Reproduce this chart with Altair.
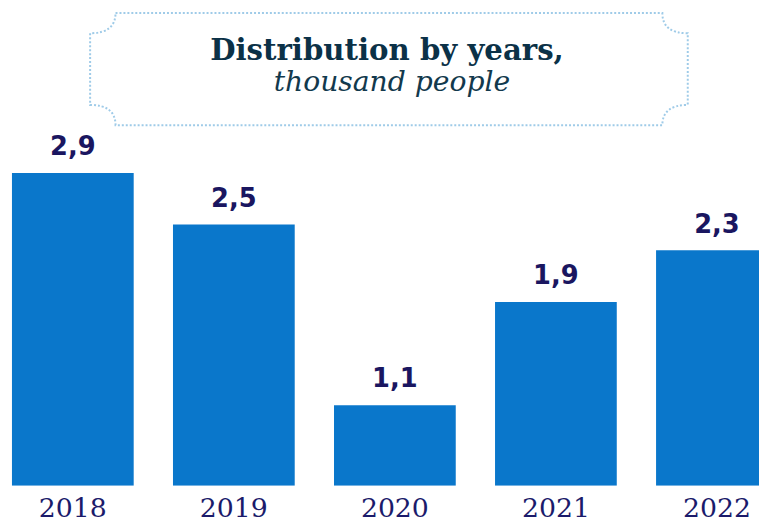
import altair as alt
import pandas as pd

years = ["2018", "2019", "2020", "2021", "2022"]
values = [2.9, 2.5, 1.1, 1.9, 2.3]
labels = ["2,9", "2,5", "1,1", "1,9", "2,3"]
title_line1 = "Distribution by years,"
title_line2 = "thousand people"

# the original chart's value axis does not start at zero
axis_min = 0.476
axis_max = 4.157

df = pd.DataFrame({"year": years, "value": values, "label": labels})

x_enc = alt.X(
    "year:N",
    sort=years,
    scale=alt.Scale(range=[4, 778], paddingInner=0.244, paddingOuter=0),
    axis=alt.Axis(
        title=None, labelAngle=0, domain=False, ticks=False, grid=False,
        labelFont="DejaVu Serif", labelFontSize=27, labelColor="#1b1b6b",
        labelPadding=10,
    ),
)
y_scale = alt.Scale(domain=[axis_min, axis_max], zero=False, nice=False)

base = alt.Chart(df)

bars = base.mark_bar(color="#0a77cb", clip=True).encode(
    x=x_enc,
    y=alt.Y("value:Q", scale=y_scale, axis=None),
    y2=alt.datum(axis_min),
)

value_text = base.mark_text(
    dy=-18, baseline="alphabetic", font="DejaVu Sans", fontWeight="bold",
    fontSize=26, color="#1a1660",
).encode(
    x=alt.X("year:N", sort=years),
    y=alt.Y("value:Q", scale=y_scale),
    text="label:N",
)

frame_path = (
    "M -0.915 -0.1877 L 0.915 -0.1877 Q 0.915 -0.12 1 -0.12 "
    "L 1 0.12 Q 0.915 0.12 0.915 0.1877 L -0.915 0.1877 "
    "Q -0.915 0.12 -1 0.12 L -1 -0.12 Q -0.915 -0.12 -0.915 -0.1877 Z"
)
frame_df = pd.DataFrame({"k": [0]})
frame = alt.Chart(frame_df).mark_point(
    shape=frame_path, size=604 * 604, filled=False, fill="transparent",
    stroke="#9fcbe8", strokeWidth=2, strokeDash=[2, 2], opacity=1,
).encode(x=alt.value(385), y=alt.value(59))

t1 = alt.Chart(pd.DataFrame({"t": [title_line1]})).mark_text(
    font="DejaVu Serif", fontWeight="bold", fontSize=29.5, color="#0b3147",
    baseline="alphabetic", align="center",
).encode(text="t:N", x=alt.value(383), y=alt.value(50))

t2 = alt.Chart(pd.DataFrame({"t": [title_line2]})).mark_text(
    font="DejaVu Serif", fontStyle="italic", fontSize=28.5, color="#12394d",
    baseline="alphabetic", align="center",
).encode(text="t:N", x=alt.value(388), y=alt.value(81))

chart = (
    alt.layer(bars, value_text, frame, t1, t2)
    .properties(
        width=759, height=480,
        padding={"top": 0, "left": 0, "right": 0, "bottom": 38},
        autosize=alt.AutoSizeParams(type="none"),
        background="white",
    )
    .configure_view(stroke=None)
)

chart.save("out.html", embed_options={"renderer": "svg", "actions": False})
